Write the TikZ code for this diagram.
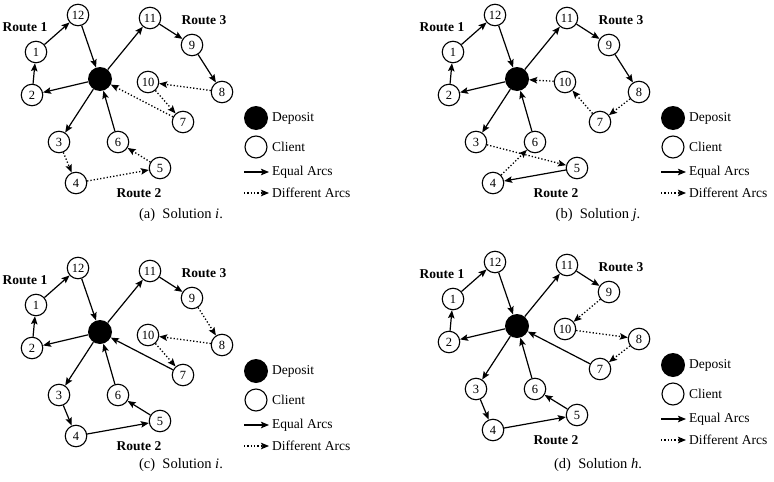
\documentclass[tikz,border=0pt]{standalone}
\usepackage{fontspec}
\setmainfont{Liberation Serif}
\usetikzlibrary{arrows.meta}
\newcommand\basegraph{%
  \node[depot] (D) at (100,79) {};
  \node[client] (n12) at (78,15) {12};
  \node[client] (n1) at (36,52) {1};
  \node[client] (n2) at (32,95) {2};
  \node[client] (n11) at (150,18) {11};
  \node[client] (n9) at (192,45) {9};
  \node[client] (n8) at (222,92) {8};
  \node[client] (n10) at (148,82) {10};
  \node[client] (n7) at (183,122) {7};
  \node[client] (n3) at (59,142) {3};
  \node[client] (n6) at (118,142) {6};
  \node[client] (n5) at (160,168) {5};
  \node[client] (n4) at (76,183) {4};
  \node[rlabel] (r1) at (25,27) {Route 1};
  \node[rlabel] (r3) at (204,20) {Route 3};
  \node[rlabel] (r2) at (139,193) {Route 2};
  \node[depot] (ld) at (256,118) {};
  \node[ltext] (ldt) at (271,118) {Deposit};
  \node[client,minimum size=22pt] (lc) at (256,147) {};
  \node[ltext] (lct) at (271,147) {Client};
  \coordinate (le1) at (244,172); \coordinate (le2) at (269,172);
  \draw[eq] (le1) -- (le2);
  \node[ltext] (let) at (271,172) {Equal Arcs};
  \coordinate (ld1) at (244,193); \coordinate (ld2) at (269,193);
  \draw[diff] (ld1) -- (ld2);
  \node[ltext] (ldft) at (271,193) {Different Arcs};
  \draw[eq] (n2) -- (n1);
  \draw[eq] (n1) -- (n12);
  \draw[eq] (n12) -- (D);
  \draw[eq] (D) -- (n2);
  \draw[eq] (D) -- (n3);
  \draw[eq] (n6) -- (D);
  \draw[eq] (D) -- (n11);
  \draw[eq] (n11) -- (n9);
}
\begin{document}
\begin{tikzpicture}[x=1pt,y=-1pt,
  client/.style={circle,draw,line width=1.1pt,minimum size=21.5pt,inner sep=0pt,font=\fontsize{12.5}{13}\selectfont},
  depot/.style={circle,fill=black,minimum size=24pt,inner sep=0pt},
  eq/.style={-{Stealth[length=8pt,width=6.5pt,inset=1.5pt]},line width=1.2pt},
  diff/.style={-{Stealth[length=8pt,width=6.5pt,inset=1.5pt]},line width=1.3pt,dash pattern=on 1.3pt off 2pt},
  rlabel/.style={font=\fontsize{13.5}{14}\selectfont\bfseries},
  ltext/.style={anchor=west,inner sep=1pt,font=\fontsize{13.5}{14}\selectfont},
  captext/.style={font=\fontsize{14.5}{15}\selectfont}]
\useasboundingbox (0,0) rectangle (774,482);
% (a)
\begin{scope}[name prefix=a-]
  \basegraph
  \draw[eq] (n9) -- (n8);
  \draw[diff] (n3) -- (n4);
  \draw[diff] (n4) -- (n5);
  \draw[diff] (n5) -- (n6);
  \draw[diff] (n8) -- (n10);
  \draw[diff] (n10) -- (n7);
  \draw[diff] (n7) -- (D);
\end{scope}
% (b)
\begin{scope}[name prefix=b-,shift={(417,0)}]
  \basegraph
  \draw[eq] (n9) -- (n8);
  \draw[diff] (n3) -- (n5);
  \draw[eq] (n5) -- (n4);
  \draw[diff] (n4) -- (n6);
  \draw[diff] (n8) -- (n7);
  \draw[diff] (n7) -- (n10);
  \draw[diff] (n10) -- (D);
\end{scope}
% (c)
\begin{scope}[name prefix=c-,shift={(0,253)}]
  \basegraph
  \draw[eq] (n3) -- (n4);
  \draw[eq] (n4) -- (n5);
  \draw[eq] (n5) -- (n6);
  \draw[eq] (n7) -- (D);
  \draw[diff] (n9) -- (n8);
  \draw[diff] (n8) -- (n10);
  \draw[diff] (n10) -- (n7);
\end{scope}
% (d)
\begin{scope}[name prefix=d-,shift={(417,247)}]
  \basegraph
  \draw[eq] (n3) -- (n4);
  \draw[eq] (n4) -- (n5);
  \draw[eq] (n5) -- (n6);
  \draw[eq] (n7) -- (D);
  \draw[diff] (n9) -- (n10);
  \draw[diff] (n10) -- (n8);
  \draw[diff] (n8) -- (n7);
\end{scope}
\node[captext] (capa) at (181,215) {(a)\ \ Solution \textit{i}.};
\node[captext] (capb) at (598,215) {(b)\ \ Solution \textit{j}.};
\node[captext] (capc) at (181,465) {(c)\ \ Solution \textit{i}.};
\node[captext] (capd) at (598,465) {(d)\ \ Solution \textit{h}.};
\end{tikzpicture}
\end{document}
